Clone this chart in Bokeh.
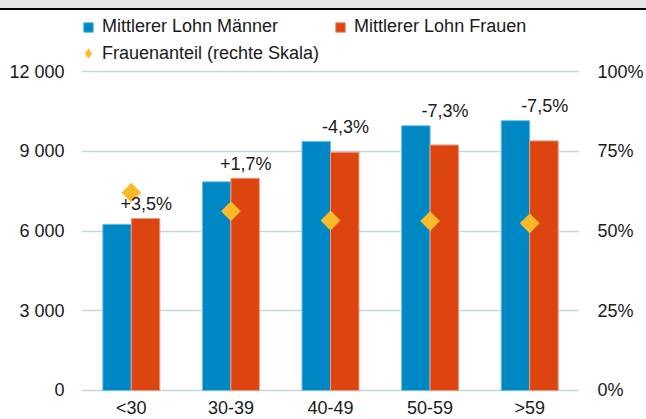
import numpy as np
from bokeh.plotting import figure
from bokeh.models import (ColumnDataSource, FactorRange, Range1d, LinearAxis, FixedTicker,
                          Legend, LegendItem, Div)
from bokeh.layouts import column
from bokeh.transform import dodge
from bokeh.core.properties import value
from bokeh.embed import file_html
from bokeh.resources import INLINE

# ---- data ----
categories = ["<30", "30-39", "40-49", "50-59", ">59"]
lohn_maenner = [6250, 7850, 9370, 9960, 10150]
lohn_frauen = [6470, 7985, 8965, 9235, 9390]
frauenanteil = [62, 56.2, 53.3, 53.1, 52.4]
diff_labels = ["+3,5%", "+1,7%", "-4,3%", "-7,3%", "-7,5%"]
left_ticks = [0, 3000, 6000, 9000, 12000]
left_tick_labels = ["0", "3 000", "6 000", "9 000", "12 000"]
right_ticks = [0, 25, 50, 75, 100]
right_tick_labels = ["0%", "25%", "50%", "75%", "100%"]

FONT = "Liberation Sans"
TXT = "#1a1a1a"
GRID = "#c5d8e2"
BLUE = "#0088c4"
RED = "#dc4510"
GOLD = "#fbba2a"

# frame spans the whole figure height; the value range is extended so that
# the legend (top) and the category labels (bottom) sit inside the frame
Y_MIN, Y_MAX = -1091, 14295
scale_pct = 100 / 12000
CAT_LABEL_Y = -650

label_y = [max(a, b) + 550 for a, b in zip(lohn_maenner, lohn_frauen)]
src = ColumnDataSource(dict(cat=categories, m=lohn_maenner, f=lohn_frauen,
                            pct=frauenanteil, lab=diff_labels, ly=label_y))
cat_src = ColumnDataSource(dict(cat=categories, y=[CAT_LABEL_Y] * len(categories)))

p = figure(width=646, height=409, x_range=FactorRange(factors=categories, range_padding=0),
           y_range=Range1d(Y_MIN, Y_MAX), output_backend="svg", toolbar_location=None,
           x_axis_location=None,
           min_border_left=81, min_border_right=67, min_border_top=0, min_border_bottom=0)
p.outline_line_color = None
p.extra_y_ranges = {"pct": Range1d(Y_MIN * scale_pct, Y_MAX * scale_pct)}

bw = 0.286
rm = p.vbar(x=dodge("cat", -bw / 2, range=p.x_range), top="m", width=bw, source=src,
            fill_color=BLUE, line_color="#6cc0e6", line_width=1)
rf = p.vbar(x=dodge("cat", bw / 2, range=p.x_range), top="f", width=bw, source=src,
            fill_color=RED, line_color="#ec9a7c", line_width=1)
rp = p.scatter(x="cat", y="pct", y_range_name="pct", source=src, marker="square",
               angle=np.pi / 4, size=14, fill_color=GOLD, line_color=None)
# legend key for the share: legend keys ignore marker rotation, so a diamond
# renderer of size 0 (invisible in the plot) supplies the key
rp_key = p.scatter(x="cat", y="pct", y_range_name="pct", source=src, marker="diamond",
                   size=0, fill_color=GOLD, line_color=None)
p.text(x=dodge("cat", 0.15, range=p.x_range), y="ly", text="lab", source=src,
       text_font=value(FONT), text_font_size="18px", text_color=TXT,
       text_align="center", text_baseline="middle")
# category labels
p.text(x="cat", y="y", text="cat", source=cat_src,
       text_font=value(FONT), text_font_size="18px", text_color=TXT,
       text_align="center", text_baseline="alphabetic")

# axes
yl = p.yaxis[0]
yl.ticker = FixedTicker(ticks=left_ticks)
yl.major_label_overrides = {t: s for t, s in zip(left_ticks, left_tick_labels)}
yr = LinearAxis(y_range_name="pct", ticker=FixedTicker(ticks=right_ticks))
yr.major_label_overrides = {t: s for t, s in zip(right_ticks, right_tick_labels)}
p.add_layout(yr, "right")
for ax, so in ((yl, 17), (yr, 18)):
    ax.axis_line_color = None
    ax.major_tick_line_color = None
    ax.minor_tick_line_color = None
    ax.major_tick_out = 0
    ax.major_tick_in = 0
    ax.minor_tick_out = 0
    ax.minor_tick_in = 0
    ax.major_label_standoff = so
    ax.major_label_text_font = FONT
    ax.major_label_text_font_size = "18px"
    ax.major_label_text_color = TXT

p.xgrid.grid_line_color = None
p.ygrid.ticker = FixedTicker(ticks=left_ticks)
p.ygrid.grid_line_color = GRID
p.ygrid.grid_line_width = 1.5

# legends
common = dict(padding=0, margin=0, border_line_color=None, background_fill_alpha=0,
              label_text_font=FONT, label_text_font_size="18px", label_text_color=TXT,
              label_height=20)
lg1 = Legend(items=[LegendItem(label="Mittlerer Lohn Männer", renderers=[rm]),
                    LegendItem(label="Mittlerer Lohn Frauen", renderers=[rf])],
             orientation="horizontal", location=(1, 382), glyph_width=12, glyph_height=12,
             label_standoff=8, spacing=56, **common)
lg2 = Legend(items=[LegendItem(label="Frauenanteil (rechte Skala)", renderers=[rp_key])],
             orientation="horizontal", location=(-6, 353), glyph_width=26, glyph_height=26,
             label_standoff=1, **common)
p.add_layout(lg1, "center")
p.add_layout(lg2, "center")

top_band = Div(text="", width=646, height=10, margin=0,
               styles={"background": "linear-gradient(#e6e6e6 0px, #e6e6e6 8px, #000000 8px, #000000 10px)"})
layout = column(top_band, p, spacing=0)

open("out.html", "w").write(file_html(layout, INLINE))
